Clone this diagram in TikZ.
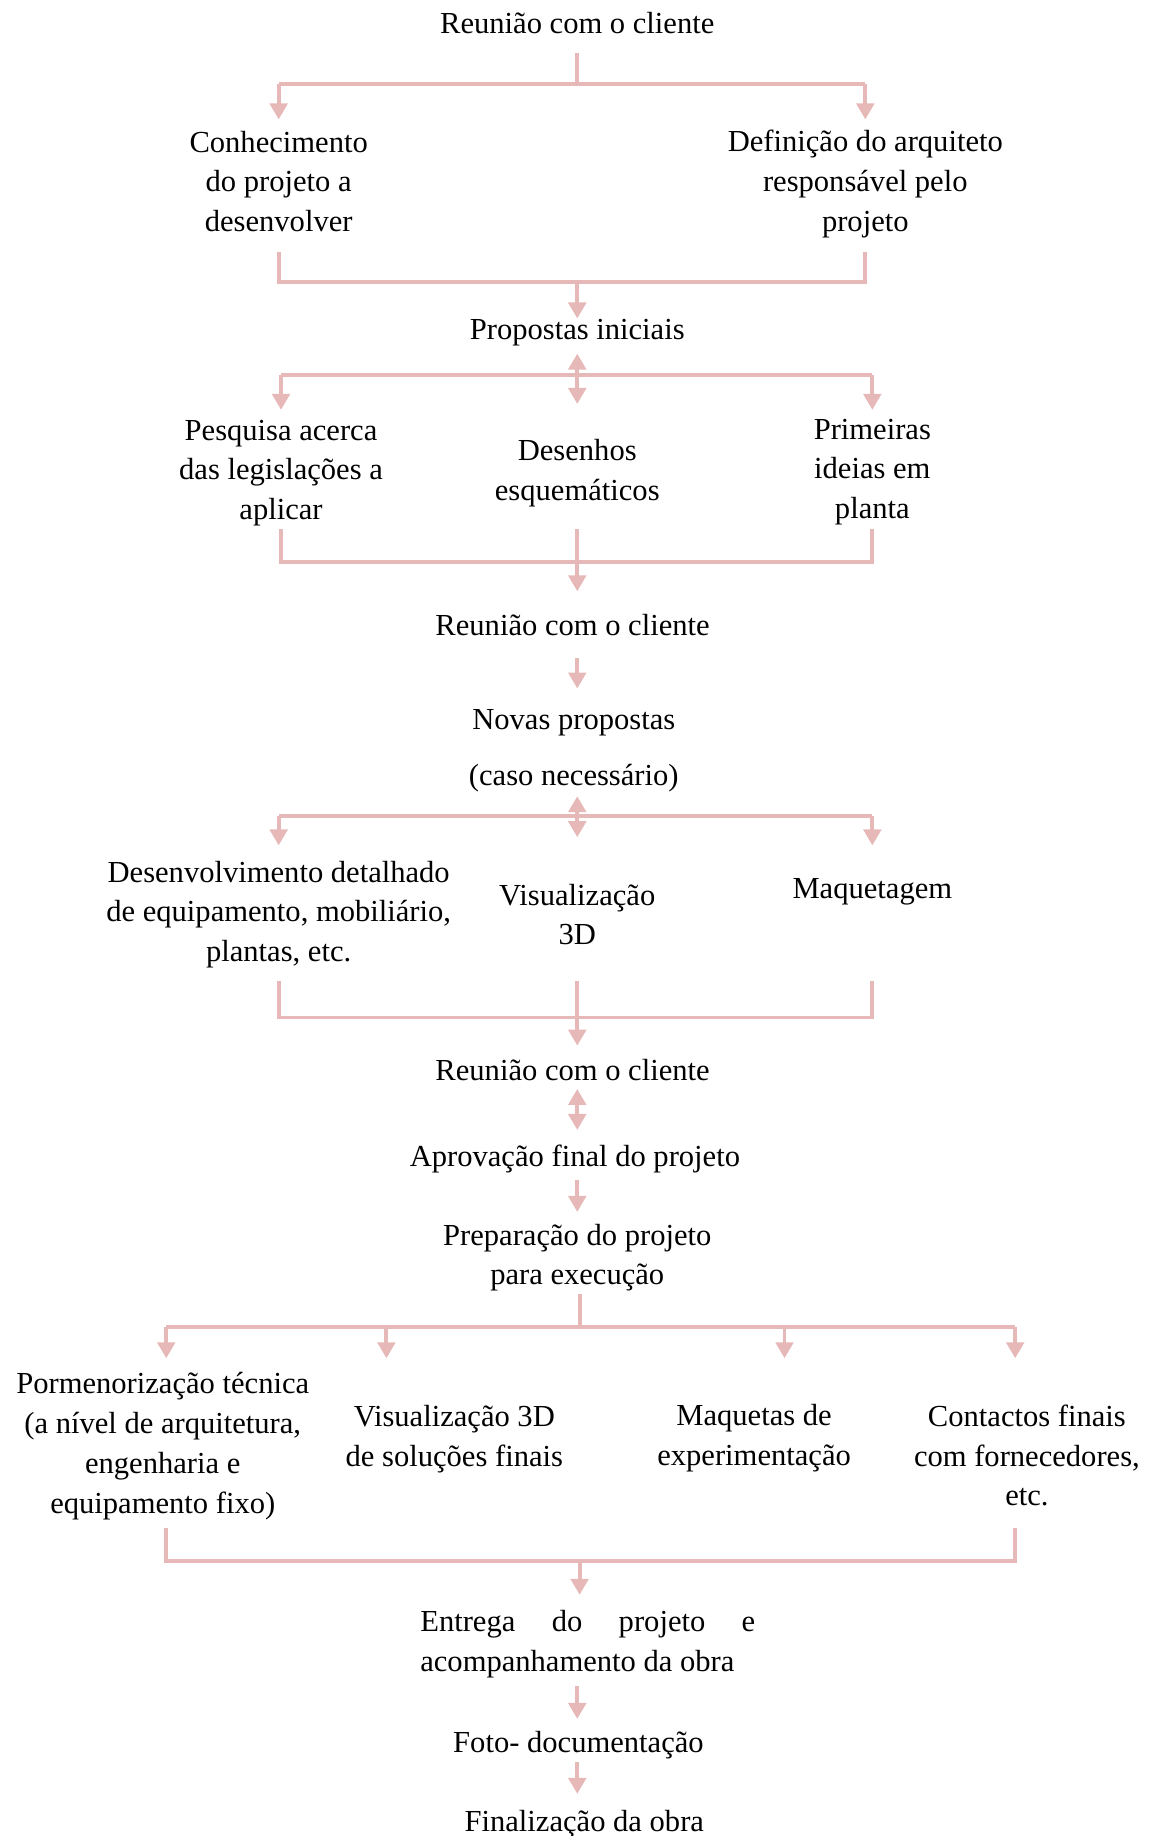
\documentclass[tikz,border=0pt]{standalone}
\usepackage{fontspec}
\setmainfont{Liberation Serif}
\usetikzlibrary{arrows.meta}
\definecolor{rosa}{HTML}{E6B8B7}
\newcommand{\txtfont}{\fontsize{17.4}{22.6}\selectfont}
\tikzset{
  txt/.style={font=\txtfont, align=center, inner sep=0pt},
  link/.style={draw=rosa, line width=2.2pt},
  arr/.style={link, -{Triangle[width=0.35cm,length=0.32cm]}},
  arrs/.style={link, {Triangle[width=0.35cm,length=0.32cm]}-{Triangle[width=0.35cm,length=0.32cm]}},
}
\begin{document}
\begin{tikzpicture}[x=0.02342cm, y=-0.02342cm]%
% coordinates in pixels of the page, y downwards
\useasboundingbox (0,0) rectangle (982,1568);
\node[txt] (reu1) at (493,20) {Reunião com o cliente};
\node[txt] (conh) at (238,155) {Conhecimento\\do projeto a\\desenvolver};
\node[txt] (defi) at (739,157) {Definição do arquiteto\\responsável pelo\\projeto};
\node[txt] (prop) at (493,284) {Propostas iniciais};
\node[txt] (pesq) at (240,404) {Pesquisa acerca\\das legislações a\\aplicar};
\node[txt] (dese) at (493,404) {Desenhos\\esquemáticos};
\node[txt] (prim) at (745,403) {Primeiras\\ideias em\\planta};
\node[txt] (reu2) at (489,534) {Reunião com o cliente};
\node[txt] (nova) at (490,641) {Novas propostas\\[0.33cm](caso necessário)};
\node[txt] (desv) at (238,781) {Desenvolvimento detalhado\\de equipamento, mobiliário,\\plantas, etc.};
\node[txt] (vis1) at (493,781) {Visualização\\3D};
\node[txt] (maqg) at (745,762) {Maquetagem};
\node[txt] (reu3) at (489,914) {Reunião com o cliente};
\node[txt] (apro) at (491,990) {Aprovação final do projeto};
\node[txt] (prep) at (493,1074) {Preparação do projeto\\para execução};
\node[txt] (porm) at (139,1235) {Pormenorização técnica\\(a nível de arquitetura,\\engenharia e\\equipamento fixo)};
\node[txt] (vis2) at (388,1229) {Visualização 3D\\de soluções finais};
\node[txt] (maqs) at (644,1228) {Maquetas de\\experimentação};
\node[txt] (cont) at (877,1243) {Contactos finais\\com fornecedores,\\etc.};
\node[txt, align=left] (entr) at (502,1404) {\makebox[6.7cm][s]{Entrega do projeto e}\\acompanhamento da obra};
\node[txt] (foto) at (494,1490) {Foto- documentação};
\node[txt] (fina) at (499,1558) {Finalização da obra};
% levels
\coordinate (s1) at (493,45);
\coordinate (b1) at (493,72);
\coordinate (t1) at (0,102);
\coordinate (u2) at (0,215);
\coordinate (b2) at (493,241);
\coordinate (t2) at (0,272);
\coordinate (d3a) at (0,302);
\coordinate (b3) at (493,320);
\coordinate (d3b) at (0,345);
\coordinate (t3) at (0,350);
\coordinate (u4) at (0,452);
\coordinate (b4) at (493,480);
\coordinate (t4) at (0,505);
\coordinate (s5) at (0,562);
\coordinate (t5) at (0,588);
\coordinate (d6a) at (0,680);
\coordinate (b6) at (493,697);
\coordinate (d6b) at (0,715);
\coordinate (t6) at (0,722);
\coordinate (u7) at (0,838);
\coordinate (b7) at (493,869);
\coordinate (t7) at (0,893);
\coordinate (d8a) at (0,930);
\coordinate (d8b) at (0,965);
\coordinate (s9) at (0,1008);
\coordinate (t9) at (0,1035);
\coordinate (s10) at (495,1105);
\coordinate (b10) at (495,1133);
\coordinate (t10) at (0,1160);
\coordinate (k1) at (142,1133);
\coordinate (k2) at (330,1133);
\coordinate (k3) at (670,1133);
\coordinate (k4) at (867,1133);
\coordinate (u11) at (0,1305);
\coordinate (b11) at (495,1333);
\coordinate (t11) at (0,1362);
\coordinate (s12) at (493,1440);
\coordinate (t12) at (0,1468);
\coordinate (s13) at (493,1505);
\coordinate (t13) at (0,1532);
% reuniao -> conhecimento / definicao
\draw[link] (s1) -- (b1);
\draw[link] (conh |- b1) -- (defi |- b1);
\draw[arr] (conh |- b1) -- (conh |- t1);
\draw[arr] (defi |- b1) -- (defi |- t1);
\draw[link] (conh |- u2) -- (conh |- b2) -- (defi |- b2) -- (defi |- u2);
\draw[arr] (b2) -- (b2 |- t2);
% propostas iniciais
\draw[arrs] (b3 |- d3a) -- (b3 |- d3b);
\draw[link] (pesq |- b3) -- (prim |- b3);
\draw[arr] (pesq |- b3) -- (pesq |- t3);
\draw[arr] (prim |- b3) -- (prim |- t3);
\draw[link] (pesq |- u4) -- (pesq |- b4) -- (prim |- b4) -- (prim |- u4);
\draw[arr] (b4 |- u4) -- (b4 |- t4);
% reuniao -> novas propostas
\draw[arr] (b4 |- s5) -- (b4 |- t5);
\draw[arrs] (b6 |- d6a) -- (b6 |- d6b);
\draw[link] (desv |- b6) -- (maqg |- b6);
\draw[arr] (desv |- b6) -- (desv |- t6);
\draw[arr] (maqg |- b6) -- (maqg |- t6);
\draw[link] (desv |- u7) -- (desv |- b7) -- (maqg |- b7) -- (maqg |- u7);
\draw[arr] (b7 |- u7) -- (b7 |- t7);
% aprovacao
\draw[arrs] (b7 |- d8a) -- (b7 |- d8b);
\draw[arr] (b7 |- s9) -- (b7 |- t9);
% execucao
\draw[link] (s10) -- (b10);
\draw[link] (k1) -- (k4);
\foreach \k in {k1,k2,k3,k4}
  \draw[arr] (\k) -- (\k |- t10);
\draw[link] (k1 |- u11) -- (k1 |- b11) -- (k4 |- b11) -- (k4 |- u11);
\draw[arr] (b11) -- (b11 |- t11);
\draw[arr] (s12) -- (s12 |- t12);
\draw[arr] (s13) -- (s13 |- t13);
\end{tikzpicture}
\end{document}
